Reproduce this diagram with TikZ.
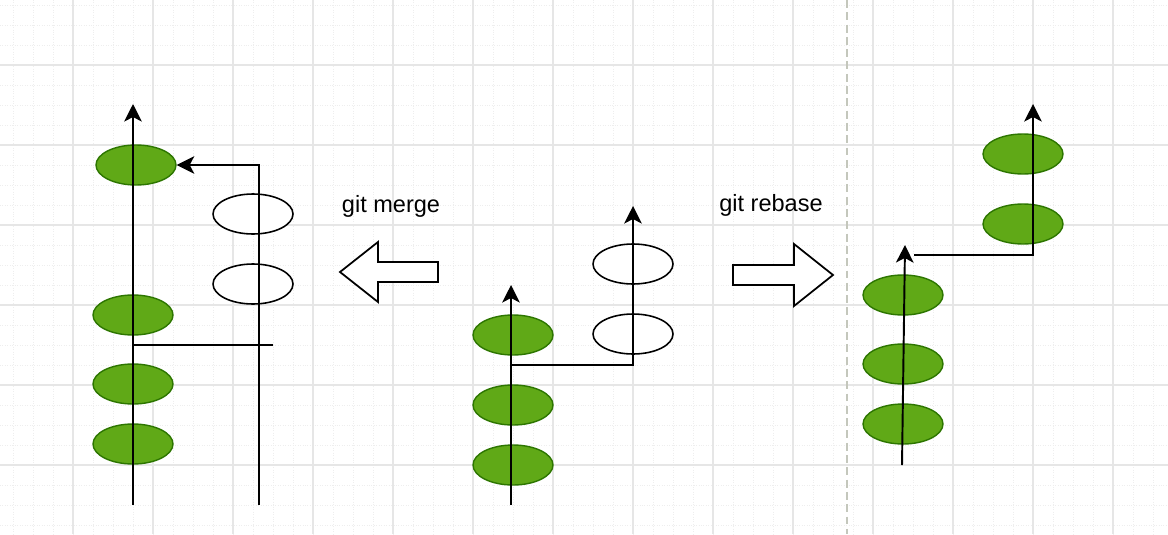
\documentclass[tikz,border=0pt]{standalone}
\usepackage{fontspec}
\setmainfont{Liberation Sans}
\usetikzlibrary{arrows.meta,shapes.geometric}
\definecolor{commitgreen}{HTML}{60A917}
\definecolor{commitborder}{HTML}{2D7600}
\definecolor{gridmajor}{HTML}{E6E6E6}
\definecolor{gridminor}{HTML}{EEEEEE}
\definecolor{sepgray}{HTML}{C4C7BC}
\tikzset{
	commit/.style={ellipse, draw=commitborder, fill=commitgreen, line width=0.8pt,
		minimum width=1.6cm, minimum height=0.8cm, inner sep=0pt},
	pending/.style={ellipse, draw=black, fill=white, line width=0.9pt,
		minimum width=1.6cm, minimum height=0.8cm, inner sep=0pt},
	history/.style={line width=1.1pt},
	branch/.style={line width=1.1pt, -{Stealth[length=10pt,width=10pt,inset=2.6pt]}},
	bigarrow/.style={draw=black, fill=white, line width=1pt, line join=miter},
	cmdlabel/.style={font=\fontsize{13.4pt}{16pt}\selectfont, inner sep=0pt}
}
\begin{document}
\begin{tikzpicture}[x=0.02cm, y=-0.02cm]
		\useasboundingbox (0,0) rectangle (1168,534);
		\fill[white] (0,0) rectangle (1168,534);
		% grid
		\foreach \gx in {13,33,...,1153}{
			\draw[gridminor, densely dotted, line width=0.4pt] (\gx,0) -- (\gx,534);
		}
		\foreach \gy in {5,25,...,525}{
			\draw[gridminor, densely dotted, line width=0.4pt] (0,\gy) -- (1168,\gy);
		}
		\foreach \gx in {73,153,...,1113}{
			\draw[gridmajor, line width=0.85pt] (\gx,0) -- (\gx,534);
		}
		\foreach \gy in {65,145,...,465}{
			\draw[gridmajor, line width=0.85pt] (0,\gy) -- (1168,\gy);
		}
		\draw[sepgray, line width=0.8pt, dash pattern=on 4.5pt off 2.5pt] (847,0) -- (847,534);
		
		% git merge
		\node[commit] (m1) at (136,165) {};
		\node[commit] (m2) at (133,315) {};
		\node[commit] (m3) at (133,384) {};
		\node[commit] (m4) at (133,444) {};
		\node[pending] (mb1) at (253,214) {};
		\node[pending] (mb2) at (253,284) {};
		\coordinate (mbot) at (133,505);
		\coordinate (mtop) at (133,104);
		\coordinate (fbot) at (259,505);
		\coordinate (mj) at (133,345);
		\coordinate (mje) at (273,345);
		\draw[branch] (mbot) -- (mtop);
		\draw[branch] (fbot) |- (m1.east);
		\draw[history] (mj) -- (mje);
		
		\node[cmdlabel] (mergetxt) at (391,206) {git merge};
		\draw[bigarrow] (340,272) -- (378,242) -- (378,262) -- (438,262) -- (438,282)
			-- (378,282) -- (378,302) -- cycle;
		
		% before
		\node[commit] (c1) at (513,335) {};
		\node[commit] (c2) at (513,405) {};
		\node[commit] (c3) at (513,465) {};
		\node[pending] (cb1) at (633,264) {};
		\node[pending] (cb2) at (633,334) {};
		\coordinate (cbot) at (511,505);
		\coordinate (ctop) at (511,285);
		\coordinate (cj) at (511,365);
		\coordinate (cbtop) at (633,206);
		\draw[branch] (cbot) -- (ctop);
		\draw[branch] (cj) -| (cbtop);
		
		\node[cmdlabel] (rebasetxt) at (771,205) {git rebase};
		\draw[bigarrow] (733,265) -- (794,265) -- (794,244) -- (833,275) -- (794,306)
			-- (794,285) -- (733,285) -- cycle;
		
		% git rebase
		\node[commit] (r1) at (903,295) {};
		\node[commit] (r2) at (903,364) {};
		\node[commit] (r3) at (903,424) {};
		\node[commit] (rb1) at (1023,224) {};
		\node[commit] (rb2) at (1023,154) {};
		\coordinate (rbot) at (902,465);
		\coordinate (rtop) at (905,245);
		\coordinate (rj) at (914,255);
		\coordinate (rbtop) at (1033,104);
		\draw[branch] (rbot) -- (rtop);
		\draw[branch] (rj) -| (rbtop);
\end{tikzpicture}
\end{document}
